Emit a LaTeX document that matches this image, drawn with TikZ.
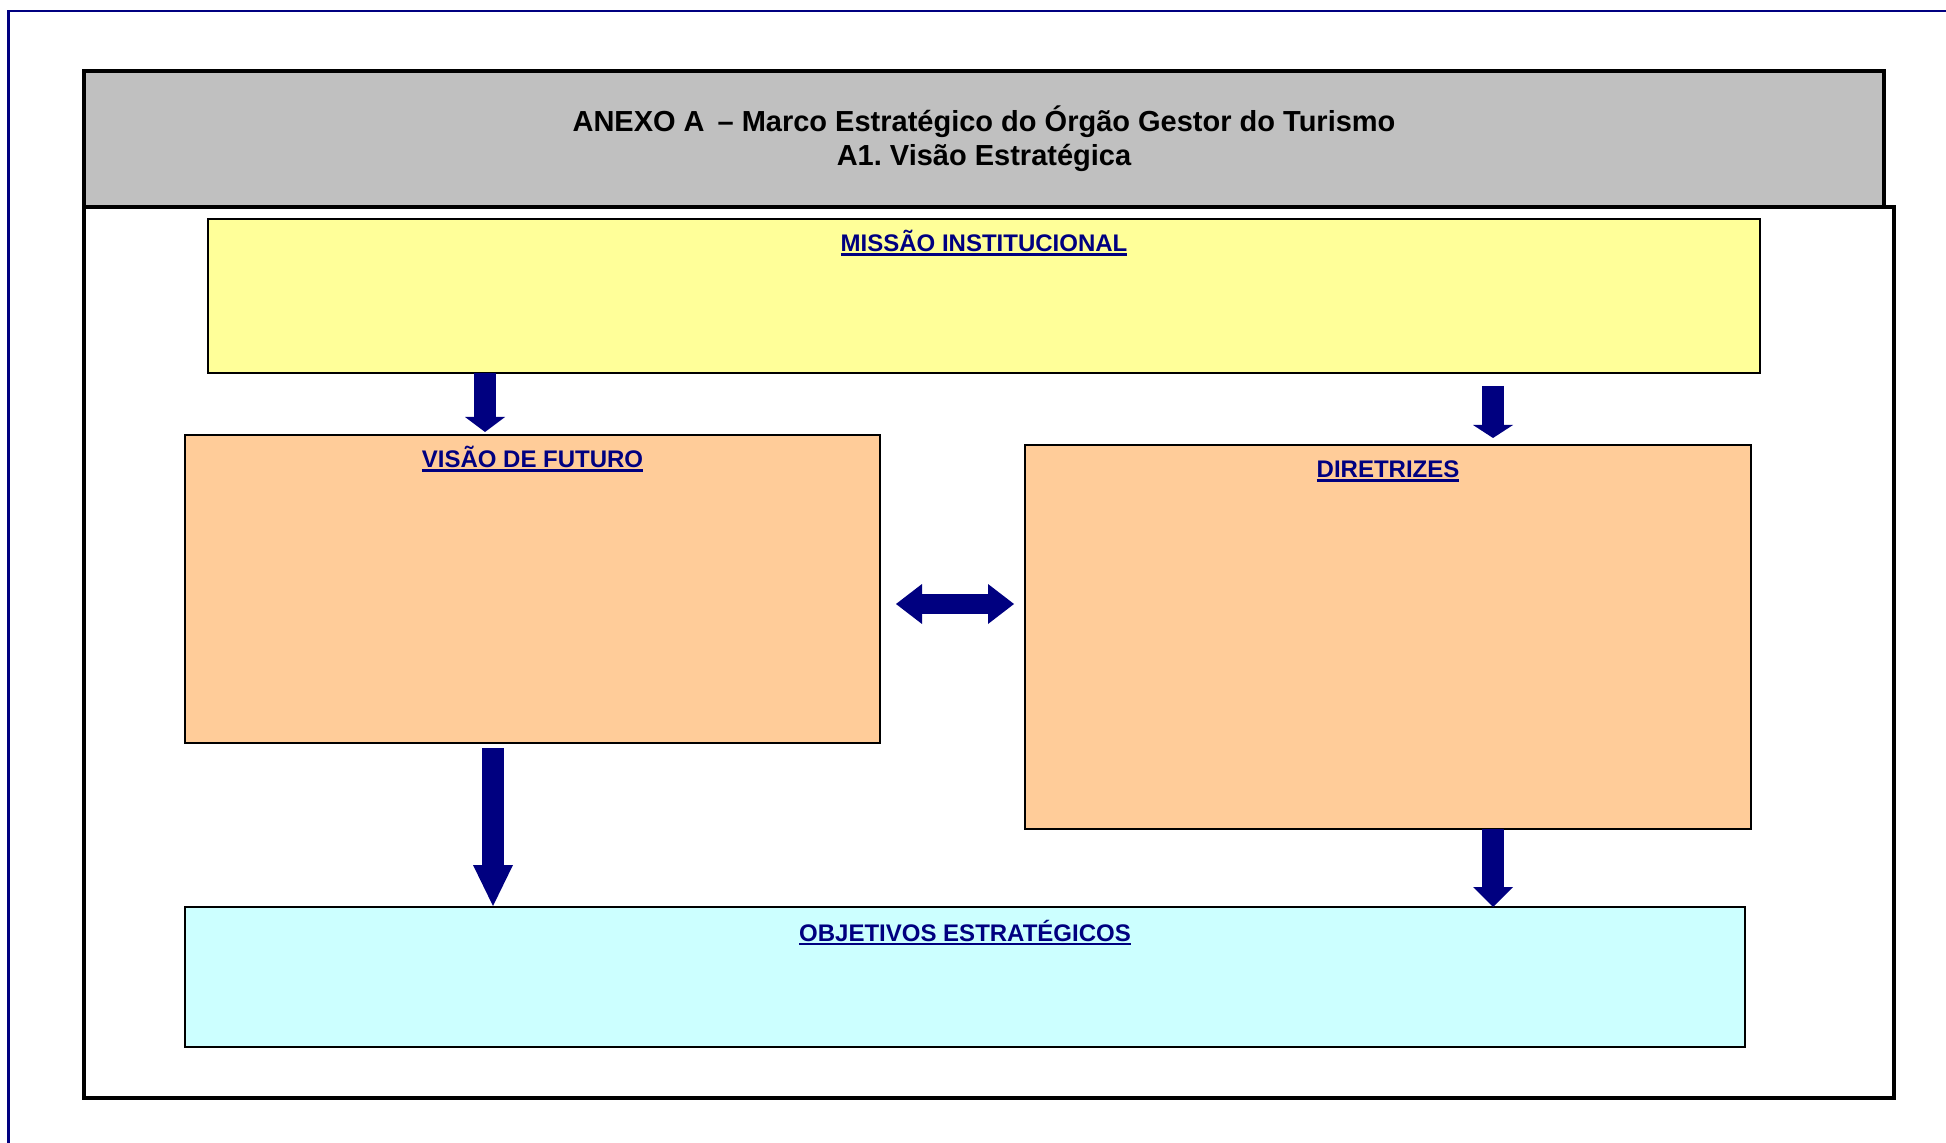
\documentclass[tikz,border=0pt]{standalone}
\usepackage{fontspec}
\setsansfont{Liberation Sans}
\usepackage{tikz}
\usetikzlibrary{arrows.meta, positioning, calc}
\definecolor{DeepNavy}{HTML}{000080}
\definecolor{HeaderGray}{HTML}{C0C0C0}
\definecolor{MissionYellow}{HTML}{FFFF99}
\definecolor{PanelOrange}{HTML}{FFCC99}
\definecolor{GoalCyan}{HTML}{CCFFFF}
\frenchspacing
\newcommand{\ultext}[1]{\setbox0=\hbox{#1}\rlap{\rule[-2pt]{\wd0}{1.25pt}}\box0}
\tikzset{
  headerbox/.style={rectangle, draw=black, line width=1.6pt, fill=HeaderGray, minimum width=900pt, minimum height=68pt, inner sep=0pt, outer sep=0pt, align=center, font=\sffamily\bfseries\fontsize{14.5}{17}\selectfont},
  framebox/.style={rectangle, draw=black, line width=1.6pt, inner sep=0pt, outer sep=0pt},
  panelbox/.style={rectangle, draw=black, line width=0.8pt, inner sep=0pt, outer sep=0pt},
  paneltitle/.style={anchor=base, inner sep=0pt, text=DeepNavy, font=\sffamily\bfseries\fontsize{12}{14}\selectfont},
  bigarrow/.style={draw=DeepNavy, line width=11pt, -{Triangle[width=20pt, length=#1, line width=0pt]}},
  bigarrow/.default=10pt,
  twinarrow/.style={draw=DeepNavy, line width=10pt, {Triangle[width=20pt, length=13pt, line width=0pt]}-{Triangle[width=20pt, length=13pt, line width=0pt]}}
}
\begin{document}
\begin{tikzpicture}[x=0.5pt, y=-0.5pt]
  \useasboundingbox (0,0) rectangle (1946,1143);
  % page frame
  \draw[DeepNavy, line width=1.35pt] (8.5,1143) |- (1946,11);
  \node[headerbox, anchor=north west] (header) at (84,71) {ANEXO A \,– Marco Estratégico do Órgão Gestor do Turismo\\A1. Visão Estratégica};
  \node[framebox, minimum width=905pt, minimum height=445.5pt, below right=0pt and 0pt of header.south west] (frame) {};
  % panels
  \node[panelbox, fill=MissionYellow, minimum width=776pt, minimum height=77pt, below right=6pt and 62pt of frame.north west] (missao) {};
  \node[panelbox, fill=PanelOrange, minimum width=347.5pt, minimum height=154pt, anchor=north west] (visao) at (185,435) {};
  \node[panelbox, fill=PanelOrange, minimum width=363pt, minimum height=192pt, right=72.5pt of visao.north east, anchor=north west, yshift=-5pt] (diretrizes) {};
  \node[panelbox, fill=GoalCyan, minimum width=780pt, minimum height=70pt, below=82pt of visao.south west, anchor=north west] (objetivos) {};
  \node[paneltitle] (missao-t) at ([yshift=-16.5pt]missao.north) {\ultext{MISSÃO INSTITUCIONAL}};
  \node[paneltitle] (visao-t) at ([yshift=-16.5pt]visao.north) {\ultext{VISÃO DE FUTURO}};
  \node[paneltitle] (diretrizes-t) at ([yshift=-16.5pt]diretrizes.north) {\ultext{DIRETRIZES}};
  \node[paneltitle] (objetivos-t) at ([yshift=-17pt]objetivos.north) {\ultext{OBJETIVOS ESTRATÉGICOS}};
  % arrows
  \coordinate (a-vis) at ($(visao.north west)+(300,0)$);
  \coordinate (a-dir) at ($(diretrizes.north west)+(468,0)$);
  \coordinate (a-obj) at ($(visao.south west)+(308,0)$);
  \coordinate (a-mid) at ($(visao.north east)+(0,169)$);
  \draw[bigarrow=7.5pt] (a-vis |- missao.south) -- ($(a-vis)+(0,-3)$);
  \draw[bigarrow=6.5pt] ($(a-dir |- missao.south)+(0,13)$) -- ($(a-dir)+(0,-7)$);
  \draw[bigarrow=20.5pt] ($(a-obj)+(0,5)$) -- ($(a-obj |- objetivos.north)+(0,-1)$);
  \draw[bigarrow=10pt] (diretrizes.south -| a-dir) -- (a-dir |- objetivos.north);
  \draw[twinarrow] ($(a-mid)+(16,0)$) -- ($(a-mid -| diretrizes.west)+(-11,0)$);
\end{tikzpicture}
\end{document}
